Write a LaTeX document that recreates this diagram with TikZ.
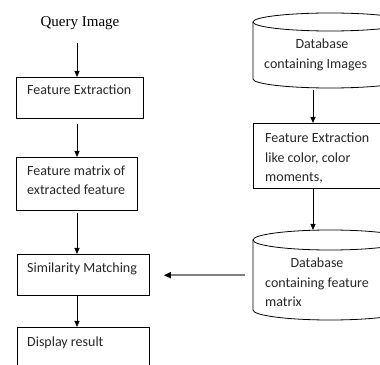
\documentclass[tikz,border=0pt]{standalone}
\usepackage{fontspec}
\setmainfont{Carlito}
\newfontfamily\titlefont{Liberation Serif}
\usetikzlibrary{arrows.meta}
\begin{document}
\begin{tikzpicture}[
  x=1bp, y=1bp,
  box/.style={draw=black, line width=0.8bp, inner sep=0pt, anchor=north west},
  body/.style={inner sep=0pt, anchor=north west},
  cyl/.style={draw=black, line width=0.8bp},
  txt/.style={inner sep=0pt, anchor=base west, font=\fontsize{14bp}{18bp}\selectfont, text=black!85},
  ctxt/.style={txt, anchor=base},
  flow/.style={draw=black, line width=0.8bp, -{Triangle[length=6bp,width=5bp]}},
  feed/.style={draw=black!50, line width=1.5bp, -{Triangle[length=7bp,width=6bp,color=black]}, shorten <=8bp, shorten >=14bp}
]
\useasboundingbox (0,0) rectangle (380,365);
\clip (0,0) rectangle (380,365);

% vertical lines carrying the arrows of each column
\coordinate (lx) at (77,0);
\coordinate (rx) at (313,0);

% ---- left column: query pipeline ----
\node[inner sep=0pt, anchor=base, font=\titlefont\fontsize{15bp}{18bp}\selectfont] (q) at (80,339) {Query Image};

\node[box, minimum width=127bp, minimum height=41bp] (b1) at (16,288) {};
\node[txt] (b1t) at (27,271) {Feature Extraction};

\node[box, minimum width=121bp, minimum height=53bp] (b2) at (16,208) {};
\node[txt] (b2t1) at (27,190) {Feature matrix of};
\node[txt] (b2t2) at (27,171) {extracted feature};

\node[box, minimum width=132bp, minimum height=41bp] (sim) at (17,111) {};
\node[txt] (simt) at (27,93) {Similarity Matching};

\node[box, minimum width=132bp, minimum height=60bp] (disp) at (17,38) {};
\node[txt] (dispt) at (27,19) {Display result};

% ---- right column: database pipeline ----
% database containing images
\node[body, minimum width=154bp, minimum height=77bp] (db1) at (253,352) {};
\draw[cyl] (253,343) -- (253,286) arc[start angle=180, end angle=360, x radius=77, y radius=9] -- (407,343);
\draw[cyl] (330,343) ellipse[x radius=77, y radius=9];
\node[ctxt] (db1t1) at (322,317) {Database};
\node[txt] (db1t2) at (264,297) {containing Images};

\node[box, minimum width=157bp, minimum height=65bp] (rb) at (253,242) {};
\node[txt] (rbt1) at (265,223) {Feature Extraction};
\node[txt] (rbt2) at (265,203) {like color, color};
\node[txt] (rbt3) at (265,184) {moments,};

% database containing feature matrix
\node[body, minimum width=154bp, minimum height=90bp] (db2) at (253,135) {};
\draw[cyl] (253,125) -- (253,55) arc[start angle=180, end angle=360, x radius=77, y radius=10] -- (407,125);
\draw[cyl] (330,125) ellipse[x radius=77, y radius=10];
\node[ctxt] (db2t1) at (317,98) {Database};
\node[txt] (db2t2) at (265,78) {containing feature};
\node[txt] (db2t3) at (265,59) {matrix};

% ---- connectors ----
\draw[flow, shorten <=14bp] (q.south -| lx) -- (b1.north -| lx);
\draw[flow, shorten <=5bp] (b1.south -| lx) -- (b2.north -| lx);
\draw[flow, shorten <=2bp] (b2.south -| lx) -- (sim.north -| lx);
\draw[flow] (sim.south -| lx) -- (disp.north -| lx);

\draw[flow] (db1.south -| rx) -- (rb.north -| rx);
\draw[flow] (rb.south -| rx) -- (db2.north -| rx);

\draw[feed] (db2.west) -- (sim.east |- db2.west);
\end{tikzpicture}
\end{document}
